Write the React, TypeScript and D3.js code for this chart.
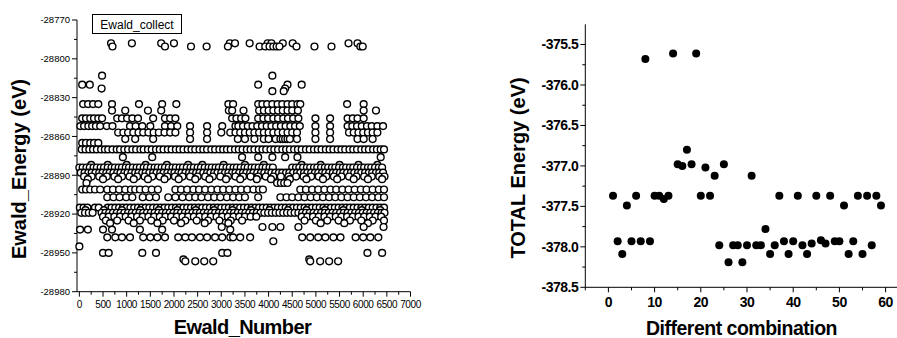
import React from 'react';
import * as d3 from 'd3';

// ---- left panel: Ewald energies, grouped by the energy level they sit on ----
const ewaldLevels = [
  -28788, -28790.5, -28813, -28820, -28823, -28825, -28835, -28840, -28846, -28852,
  -28857, -28862, -28865, -28870, -28876, -28882, -28884, -28888, -28891, -28893,
  -28896, -28901, -28907, -28915, -28917, -28919, -28922, -28925, -28927, -28930,
  -28932, -28938, -28941, -28945, -28950, -28955, -28956.5,
];

const ewaldNumbers = [
  [670, 1110, 1730, 2000, 3180, 3290, 3600, 3980, 4060, 4300, 4510, 5690, 5880],
  [700, 1810, 2360, 2690, 3140, 3810, 3930, 4020, 4100, 4170, 4230, 4590, 4970, 5330, 5940, 5990],
  [480, 4080],
  [60, 220, 3780, 4400, 4700],
  [470, 4350],
  [4080, 4320],
  [80, 185, 290, 400, 690, 1260, 1750, 2050, 3150, 3250, 3780, 3870, 3970, 4080, 4190, 4290, 4400, 4500, 4610, 4670, 5660, 6010],
  [690, 970, 1450, 1730, 3160, 3230, 3470, 3800, 3900, 4000, 4100, 4200, 4300, 4400, 4500, 4620, 6010, 6270],
  [60, 140, 230, 310, 400, 480, 800, 900, 1010, 1120, 1240, 1560, 1810, 1920, 2030, 3230, 3320, 3420, 3510, 3780, 3890, 3990, 4100, 4200, 4310, 4410, 4520, 4630, 4990, 5300, 5670, 5780, 5880, 6010],
  [20, 100, 190, 270, 350, 440, 580, 700, 1070, 1190, 1330, 1500, 1810, 1940, 2070, 2340, 2700, 3020, 3300, 3360, 3460, 3560, 3660, 3760, 3860, 3960, 4060, 4160, 4260, 4360, 4460, 4560, 4660, 4990, 5300, 5670, 5770, 5870, 5970, 6080, 6180, 6300, 6420],
  [820, 930, 1030, 1140, 1250, 1350, 1460, 1570, 1680, 1800, 1920, 2030, 2340, 2700, 3000, 3190, 3300, 3400, 3500, 3600, 3700, 3800, 3900, 4000, 4100, 4200, 4300, 4400, 4500, 4600, 4990, 5300, 5700, 5800, 5900, 6000, 6100, 6200, 6300],
  [970, 1180, 1560, 2340, 2700, 3350, 3500, 3700, 3900, 4000, 4150, 4250, 4300, 4350, 4400, 4450, 4600, 4990, 5300, 5880, 6010, 6200],
  [60, 140, 230, 310, 400],
  [50, 130, 210, 290, 370, 460, 540, 610, 700, 790, 860, 950, 1030, 1120, 1200, 1290, 1360, 1450, 1530, 1620, 1700, 1780, 1870, 1950, 2040, 2120, 2200, 2290, 2370, 2450, 2540, 2620, 2700, 2790, 2870, 2960, 3040, 3120, 3200, 3290, 3370, 3450, 3540, 3620, 3700, 3790, 3870, 3950, 4040, 4120, 4200, 4290, 4370, 4450, 4540, 4620, 4700, 4790, 4870, 4960, 5040, 5120, 5210, 5290, 5370, 5460, 5540, 5620, 5710, 5790, 5870, 5960, 6040, 6120, 6210, 6290, 6370, 6440],
  [920, 1540, 3440, 3780, 4080, 4350, 4610, 6370],
  [250, 600, 1000, 1400, 1850, 2300, 2600, 3050, 3500, 3900, 4700, 5100, 5500, 5900, 6300],
  [0, 70, 150, 220, 300, 370, 450, 520, 600, 680, 750, 830, 900, 980, 1050, 1130, 1210, 1280, 1360, 1430, 1510, 1590, 1660, 1740, 1810, 1890, 1970, 2040, 2120, 2190, 2270, 2350, 2420, 2500, 2570, 2650, 2730, 2800, 2880, 2950, 3030, 3110, 3180, 3260, 3330, 3410, 3490, 3560, 3640, 3710, 3790, 3870, 3940, 4020, 4090, 4500, 4580, 4650, 4730, 4810, 4880, 4960, 5030, 5110, 5190, 5260, 5340, 5410, 5490, 5570, 5640, 5720, 5790, 5870, 5950, 6020, 6100, 6170, 6250, 6330, 6400],
  [30, 110, 190, 260, 340, 420, 490, 570, 640, 720, 800, 870, 950, 1020, 1100, 1180, 1250, 1330, 1400, 1480, 1560, 1630, 1710, 1780, 1860, 1940, 2010, 2090, 2160, 2240, 2320, 2390, 2470, 2540, 2620, 2700, 2770, 2850, 2920, 3000, 3080, 3150, 3230, 3300, 3380, 3460, 3530, 3610, 3680, 3760, 3840, 3910, 3990, 4060, 4140, 4220, 4290, 4370, 4440, 4520, 4600, 4670, 4750, 4820, 4900, 4980, 5050, 5130, 5200, 5280, 5360, 5430, 5510, 5580, 5660, 5740, 5810, 5890, 5960, 6040, 6120, 6190, 6270, 6340, 6420],
  [100, 260, 420, 580, 740, 900, 1060, 1220, 1380, 1540, 1700, 1860, 2020, 2180, 2340, 2500, 2660, 2820, 2980, 3140, 3300, 3460, 3620, 3780, 3940, 4100, 4260, 4420, 4580, 4740, 4900, 5060, 5220, 5380, 5540, 5700, 5860, 6020, 6180, 6340, 6450],
  [180, 500, 820, 1150, 1450, 1800, 2100, 2450, 2750, 3100, 3400, 3750, 4050, 4450, 4800, 5150, 5450, 5800, 6100, 6400],
  [150, 4180, 4260, 4330, 4400],
  [60, 140, 230, 330, 440, 590, 710, 840, 970, 1090, 1180, 1280, 1400, 1530, 1660, 2030, 2150, 2280, 2410, 2530, 2660, 2790, 2920, 3040, 3170, 3300, 3420, 3550, 3680, 3800, 3880, 4670, 4790, 4920, 5050, 5180, 5310, 5430, 5560, 5690, 5820, 5950, 6070, 6200, 6330, 6440],
  [590, 720, 850, 990, 1120, 1340, 1480, 1620, 1880, 2030, 2180, 2320, 2450, 2580, 2720, 2850, 2980, 3120, 3250, 3380, 3500, 3780, 4250, 4380, 4500, 4630, 4760, 4890, 5020, 5150, 5280, 5410, 5540, 5670, 5800, 5930, 6060, 6190, 6320, 6440],
  [10, 90, 170, 330, 410, 600, 680, 760, 840, 920, 1000, 1080, 1160, 1240, 1320, 1400, 1480, 1560, 1640, 1720, 1800, 1880, 1960, 2040, 2120, 2200, 2280, 2360, 2440, 2520, 2600, 2680, 2760, 2840, 2920, 3000, 3080, 3160, 3240, 3320, 3400, 3480, 3560, 3640, 3720, 3800, 3880, 3960, 4040, 4120, 4200, 4280, 4360, 4440, 4520, 4600, 4680, 4760, 4840, 4920, 5000, 5080, 5160, 5240, 5320, 5400, 5480, 5560, 5640, 5720, 5800, 5880, 5960, 6040, 6120, 6200, 6280, 6360, 6440],
  [130, 520, 900, 1290, 1680, 2070, 2460, 2850, 3240, 3630, 4020, 4410, 4800, 5190, 5580, 5970, 6360],
  [40, 120, 200, 280, 470, 550, 630, 710, 790, 870, 950, 1030, 1110, 1190, 1270, 1350, 1430, 1510, 1590, 1670, 1750, 1830, 1910, 1990, 2070, 2150, 2230, 2310, 2390, 2470, 2550, 2630, 2710, 2790, 2870, 2950, 3030, 3110, 3190, 3270, 3350, 3430, 3510, 3590, 3670, 3750, 3830, 3910, 3990, 4070, 4150, 4230, 4310, 4390, 4470, 4550, 4630, 4710, 4790, 4870, 4950, 5030, 5110, 5190, 5270, 5350, 5430, 5510, 5590, 5670, 5750, 5830, 5910, 5990, 6070, 6150, 6230, 6310, 6390, 6450],
  [500, 620, 740, 860, 980, 1100, 1220, 1340, 1460, 1580, 1700, 1820, 1940, 2060, 2180, 2300, 2420, 2540, 2660, 2780, 2900, 3020, 3140, 3260, 3380, 3500, 3620, 3740, 4700, 4820, 4940, 5060, 5180, 5300, 5420, 5540, 5660, 5780, 5900, 6020, 6140, 6260, 6380],
  [560, 800, 1040, 1280, 1520, 1760, 2000, 2240, 2480, 2720, 2960, 3200, 3440, 4760, 5000, 5240, 5480, 5720, 5960, 6200, 6440],
  [650, 1150, 1650, 2150, 2650, 3150, 5100, 5600, 6100],
  [3010, 3870, 4080, 4250, 4630, 6010, 6430],
  [15, 180, 500, 690, 1280, 1750, 3190],
  [590, 760, 900, 1070, 1350, 1500, 1650, 1810, 2090, 2240, 2380, 2550, 2700, 2870, 3020, 3190, 3250, 3400, 3610, 4710, 4880, 5050, 5200, 5370, 5520, 5840, 6000, 6150, 6320],
  [4100],
  [0],
  [500, 620, 1330, 1620, 3020, 3130, 6090, 6400],
  [2200, 4860],
  [2240, 2450, 2640, 2830, 4880, 5090, 5280, 5470],
];

const ewaldYTicks = [-28980, -28950, -28920, -28890, -28860, -28830, -28800, -28770];
const ewaldXTicks = [0, 500, 1000, 1500, 2000, 2500, 3000, 3500, 4000, 4500, 5000, 5500, 6000, 6500, 7000];

// ---- right panel: total energy per combination ----
const combination = [
  1, 2, 3, 4, 5, 6, 7, 8, 9, 10, 11, 12, 13, 14, 15, 16, 17, 18, 19, 20,
  21, 22, 23, 24, 25, 26, 27, 28, 29, 30, 31, 32, 33, 34, 35, 36, 37, 38, 39, 40,
  41, 42, 43, 44, 45, 46, 47, 48, 49, 50, 51, 52, 53, 54, 55, 56, 57, 58, 59,
];
const totalEnergy = [
  -377.37, -377.93, -378.09, -377.49, -377.93, -377.37, -377.93, -375.68, -377.93, -377.37,
  -377.37, -377.41, -377.37, -375.61, -376.98, -377.0, -376.8, -376.98, -375.61, -377.37,
  -377.02, -377.37, -377.12, -377.98, -376.98, -378.19, -377.98, -377.98, -378.19, -377.98,
  -377.12, -377.98, -377.98, -377.78, -378.09, -377.98, -377.37, -377.93, -378.09, -377.93,
  -377.37, -377.98, -378.09, -377.96, -377.37, -377.92, -377.96, -377.37, -377.93, -377.93,
  -377.49, -378.09, -377.93, -377.37, -378.09, -377.37, -377.98, -377.37, -377.49,
];
const totalYTicks = [-378.5, -378.0, -377.5, -377.0, -376.5, -376.0, -375.5];
const totalXTicks = [0, 10, 20, 30, 40, 50, 60];

const FONT = '"Liberation Sans", Arial, sans-serif';

function EwaldPanel() {
  const x = d3.scaleLinear().domain([-50, 7000]).range([77, 410.5]);
  const y = d3.scaleLinear().domain([-28980, -28770]).range([291.7, 20]);
  const [x0, x1] = x.range();
  const [yb, yt] = y.range();

  const points = ewaldLevels.flatMap((e, i) => ewaldNumbers[i].map((n) => [n, e]));
  const yMinor = d3.range(-28980, -28770, 15).filter((v) => !ewaldYTicks.includes(v));
  const xMinor = d3.range(250, 7000, 500);

  return (
    <g fontFamily={FONT}>
      <line x1={x0} x2={x0} y1={yt} y2={yb} stroke="#000" />
      <line x1={x0} x2={x1} y1={yb} y2={yb} stroke="#000" />
      {ewaldYTicks.map((t) => (
        <g key={t}>
          <line x1={x0 - 5} x2={x0} y1={y(t)} y2={y(t)} stroke="#000" />
          <text x={x0 - 7} y={y(t)} dy="0.35em" textAnchor="end" fontSize={9.5}>{t}</text>
        </g>
      ))}
      {yMinor.map((t) => (
        <line key={t} x1={x0 - 3} x2={x0} y1={y(t)} y2={y(t)} stroke="#000" />
      ))}
      {ewaldXTicks.map((t) => (
        <g key={t}>
          <line x1={x(t)} x2={x(t)} y1={yb} y2={yb + 5} stroke="#000" />
          <text x={x(t)} y={307.5} textAnchor="middle" fontSize={10} letterSpacing={-0.4}>{t}</text>
        </g>
      ))}
      {xMinor.map((t) => (
        <line key={t} x1={x(t)} x2={x(t)} y1={yb} y2={yb + 3} stroke="#000" />
      ))}
      {points.map(([n, e], i) => (
        <circle key={i} cx={x(n)} cy={y(e)} r={3.4} fill="#fff" stroke="#000" strokeWidth={1.4} />
      ))}
      <rect x={92.5} y={14.5} width={89} height={19} fill="#fff" stroke="#000" />
      <text x={137} y={28.5} textAnchor="middle" fontSize={12}>Ewald_collect</text>
      <text transform="translate(26,169) rotate(-90)" textAnchor="middle" fontSize={20} fontWeight="bold">
        Ewald_Energy (eV)
      </text>
      <text x={242.5} y={334} textAnchor="middle" fontSize={20} fontWeight="bold" letterSpacing={-0.6}>
        Ewald_Number
      </text>
    </g>
  );
}

function TotalPanel() {
  const x = d3.scaleLinear().domain([-5, 65]).range([585.3, 908.7]);
  const y = d3.scaleLinear().domain([-378.5, -375.25]).range([287.3, 24.3]);
  const [x0, x1] = x.range();
  const [yb, yt] = y.range();
  const yMinor = d3.range(-378.25, -375.25, 0.5);
  const xMinor = d3.range(-5, 65, 10);

  return (
    <g fontFamily={FONT}>
      <line x1={x0} x2={x0} y1={yt} y2={yb} stroke="#000" />
      <line x1={x0} x2={x1} y1={yb} y2={yb} stroke="#000" />
      {totalYTicks.map((t) => (
        <g key={t}>
          <line x1={x0 - 5} x2={x0} y1={y(t)} y2={y(t)} stroke="#000" />
          <text x={x0 - 7} y={y(t)} dy="0.35em" textAnchor="end" fontSize={14} fontWeight="bold" letterSpacing={-0.5}>
            {t.toFixed(1)}
          </text>
        </g>
      ))}
      {yMinor.map((t) => (
        <line key={t} x1={x0 - 3} x2={x0} y1={y(t)} y2={y(t)} stroke="#000" />
      ))}
      {totalXTicks.map((t) => (
        <g key={t}>
          <line x1={x(t)} x2={x(t)} y1={yb} y2={yb + 5} stroke="#000" />
          <text x={x(t)} y={306.7} textAnchor="middle" fontSize={14} fontWeight="bold" letterSpacing={-0.5}>{t}</text>
        </g>
      ))}
      {xMinor.map((t) => (
        <line key={t} x1={x(t)} x2={x(t)} y1={yb} y2={yb + 3} stroke="#000" />
      ))}
      {combination.map((c, i) => (
        <circle key={c} cx={x(c)} cy={y(totalEnergy[i])} r={4} fill="#000" />
      ))}
      <text transform="translate(525,168) rotate(-90)" textAnchor="middle" fontSize={20} fontWeight="bold">
        TOTAL Energy (eV)
      </text>
      <text x={741.5} y={335} textAnchor="middle" fontSize={19.5} fontWeight="bold" letterSpacing={-0.5}>
        Different combination
      </text>
    </g>
  );
}

export default function App() {
  return (
    <svg
      width={897}
      height={338}
      style={{ position: 'absolute', left: 0, top: 0, background: '#fff' }}
    >
      <rect width={897} height={338} fill="#fff" />
      <EwaldPanel />
      <TotalPanel />
    </svg>
  );
}
